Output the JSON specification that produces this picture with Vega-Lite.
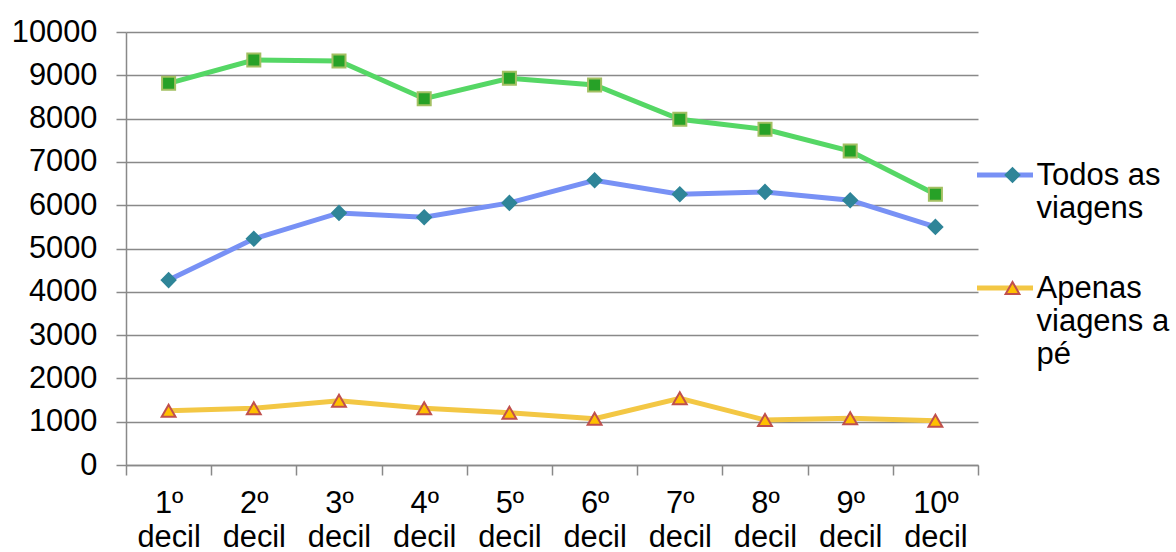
{
  "$schema": "https://vega.github.io/schema/vega-lite/v6.json",
  "width": 852,
  "height": 433,
  "autosize": {"type": "none"},
  "padding": {"left": 126, "top": 32, "right": 198, "bottom": 87},
  "background": "white",
  "config": {
    "view": {"stroke": null},
    "font": "Liberation Sans",
    "axis": {
      "labelFont": "Liberation Sans",
      "labelFontSize": 30.8,
      "labelColor": "#000000",
      "domainColor": "#898989",
      "domainWidth": 1.5,
      "tickColor": "#898989",
      "tickWidth": 1.5,
      "tickSize": 10,
      "gridColor": "#898989",
      "gridWidth": 1.5,
      "title": null
    },
    "legend": {
      "labelFont": "Liberation Sans",
      "labelFontSize": 31,
      "labelColor": "#000000",
      "labelLimit": 400,
      "padding": 0
    }
  },
  "data": {
    "values": [
      {"decil": "1º decil", "serie": "Série 3", "valor": 8815},
      {"decil": "2º decil", "serie": "Série 3", "valor": 9353},
      {"decil": "3º decil", "serie": "Série 3", "valor": 9330},
      {"decil": "4º decil", "serie": "Série 3", "valor": 8460},
      {"decil": "5º decil", "serie": "Série 3", "valor": 8930},
      {"decil": "6º decil", "serie": "Série 3", "valor": 8776},
      {"decil": "7º decil", "serie": "Série 3", "valor": 7984},
      {"decil": "8º decil", "serie": "Série 3", "valor": 7753},
      {"decil": "9º decil", "serie": "Série 3", "valor": 7252},
      {"decil": "10º decil", "serie": "Série 3", "valor": 6254},
      {"decil": "1º decil", "serie": "Todos as viagens", "valor": 4270},
      {"decil": "2º decil", "serie": "Todos as viagens", "valor": 5224},
      {"decil": "3º decil", "serie": "Todos as viagens", "valor": 5822},
      {"decil": "4º decil", "serie": "Todos as viagens", "valor": 5723},
      {"decil": "5º decil", "serie": "Todos as viagens", "valor": 6053},
      {"decil": "6º decil", "serie": "Todos as viagens", "valor": 6577},
      {"decil": "7º decil", "serie": "Todos as viagens", "valor": 6254},
      {"decil": "8º decil", "serie": "Todos as viagens", "valor": 6307},
      {"decil": "9º decil", "serie": "Todos as viagens", "valor": 6115},
      {"decil": "10º decil", "serie": "Todos as viagens", "valor": 5499},
      {"decil": "1º decil", "serie": "Apenas viagens a pé", "valor": 1254},
      {"decil": "2º decil", "serie": "Apenas viagens a pé", "valor": 1309},
      {"decil": "3º decil", "serie": "Apenas viagens a pé", "valor": 1485},
      {"decil": "4º decil", "serie": "Apenas viagens a pé", "valor": 1309},
      {"decil": "5º decil", "serie": "Apenas viagens a pé", "valor": 1208},
      {"decil": "6º decil", "serie": "Apenas viagens a pé", "valor": 1070},
      {"decil": "7º decil", "serie": "Apenas viagens a pé", "valor": 1540},
      {"decil": "8º decil", "serie": "Apenas viagens a pé", "valor": 1040},
      {"decil": "9º decil", "serie": "Apenas viagens a pé", "valor": 1078},
      {"decil": "10º decil", "serie": "Apenas viagens a pé", "valor": 1023}
    ]
  },
  "encoding": {
    "x": {
      "field": "decil",
      "type": "ordinal",
      "sort": null,
      "scale": {"type": "band", "paddingInner": 0, "paddingOuter": 0},
      "axis": {
        "labelAngle": 0,
        "grid": false,
        "tickBand": "extent",
        "labelPadding": 13,
        "labelBaseline": "top",
        "labelLineHeight": 34,
        "labelExpr": "split(datum.label, ' ')"
      }
    },
    "y": {
      "field": "valor",
      "type": "quantitative",
      "scale": {"domain": [0, 10000], "nice": false},
      "axis": {
        "values": [0, 1000, 2000, 3000, 4000, 5000, 6000, 7000, 8000, 9000, 10000],
        "format": "d",
        "grid": true,
        "labelPadding": 19
      }
    }
  },
  "layer": [
    {
      "transform": [{"filter": "datum.serie == 'Série 3'"}],
      "mark": {"type": "line", "color": "#55d765", "strokeWidth": 5}
    },
    {
      "transform": [{"filter": "datum.serie == 'Série 3'"}],
      "mark": {"type": "point", "shape": "square", "filled": true, "fill": "#27a127", "stroke": "#a3c062", "strokeWidth": 2, "size": 170, "opacity": 1}
    },
    {
      "transform": [{"filter": "datum.serie != 'Série 3'"}],
      "mark": {"type": "line", "strokeWidth": 5},
      "encoding": {
        "color": {
          "field": "serie",
          "type": "nominal",
          "sort": ["Todos as viagens", "Apenas viagens a pé"],
          "scale": {"range": ["#7891f5", "#f3c744"]},
          "legend": {
            "orient": "none",
            "legendX": 848.5,
            "legendY": 122.5,
            "title": null,
            "symbolType": "M-1,-0.357L1,-0.357",
            "symbolStrokeWidth": 5,
            "symbolSize": 3136,
            "symbolOffset": 0,
            "labelOffset": 1,
            "labelBaseline": "alphabetic",
            "labelLineHeight": 35,
            "rowPadding": 43,
            "labelExpr": "datum.value == 'Todos as viagens' ? ['Todos as', 'viagens'] : ['Apenas', 'viagens a', 'pé']"
          }
        }
      }
    },
    {
      "transform": [{"filter": "datum.serie != 'Série 3'"}],
      "mark": {"type": "point", "filled": true, "strokeWidth": 2, "size": 190, "opacity": 1},
      "encoding": {
        "shape": {
          "field": "serie",
          "type": "nominal",
          "scale": {"domain": ["Todos as viagens", "Apenas viagens a pé"], "range": ["diamond", "triangle-up"]},
          "legend": {
            "orient": "none",
            "legendX": 871,
            "legendY": 127.5,
            "title": null,
            "symbolSize": 190,
            "symbolStrokeWidth": 2,
            "symbolOffset": 0,
            "labelOffset": 1,
            "rowPadding": 81,
            "labelExpr": "''"
          }
        },
        "fill": {
          "field": "serie",
          "type": "nominal",
          "scale": {"domain": ["Todos as viagens", "Apenas viagens a pé"], "range": ["#2f8598", "#ffc000"]}
        },
        "stroke": {
          "field": "serie",
          "type": "nominal",
          "scale": {"domain": ["Todos as viagens", "Apenas viagens a pé"], "range": ["#2f8598", "#c0504d"]}
        }
      }
    }
  ]
}
